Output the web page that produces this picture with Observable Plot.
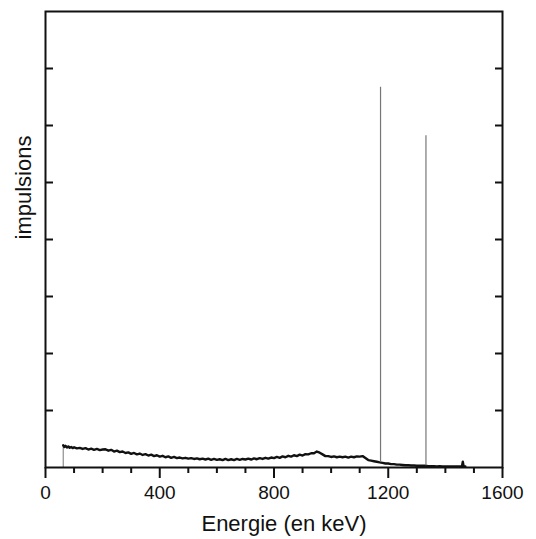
<!DOCTYPE html>
<html>
<head>
<meta charset="utf-8">
<script src="https://cdn.jsdelivr.net/npm/d3@7"></script>
<script src="https://cdn.jsdelivr.net/npm/@observablehq/plot@0.6"></script>
<style>
  body { margin: 0; background: #fff; }
  svg { font-family: "Liberation Sans", Arial, Helvetica, sans-serif; }
</style>
</head>
<body>
<div id="chart"></div>
<script>
// Energy (keV) of the sampled spectrum points
const energy = [62, 66, 70, 75, 80, 85, 90, 95, 100, 110, 120, 130, 140, 150, 160, 170, 180, 190, 200,
  210, 220, 230, 240, 250, 260, 270, 280, 290, 300, 310, 320, 330, 340, 350, 360, 370, 380, 390, 400,
  410, 420, 430, 440, 450, 460, 470, 480, 490, 500, 510, 520, 530, 540, 550, 560, 570, 580, 590, 600,
  610, 620, 630, 640, 650, 660, 670, 680, 690, 700, 710, 720, 730, 740, 750, 760, 770, 780, 790, 800,
  810, 820, 830, 840, 850, 860, 870, 880, 890, 900, 910, 920, 930, 940, 950, 960, 970, 980, 990, 1000,
  1010, 1020, 1030, 1040, 1050, 1060, 1070, 1080, 1090, 1100, 1110, 1120, 1130, 1140, 1150, 1160, 1170, 1180, 1190, 1200,
  1210, 1220, 1230, 1240, 1250, 1260, 1270, 1280, 1290, 1300, 1310, 1320, 1330, 1340, 1350, 1360, 1370, 1380, 1390, 1400,
  1410, 1420, 1430, 1440, 1450, 1458, 1461, 1464, 1470];
// Counts (arbitrary units, frame = 0..8)
const counts = [0.39, 0.36, 0.38, 0.35, 0.37, 0.345, 0.36, 0.34, 0.355, 0.335, 0.345, 0.325, 0.34, 0.315, 0.33, 0.31, 0.325, 0.305, 0.315,
  0.32, 0.295, 0.31, 0.28, 0.295, 0.27, 0.28, 0.255, 0.265, 0.24, 0.255, 0.23, 0.245, 0.22, 0.235, 0.21, 0.225, 0.2, 0.215, 0.19,
  0.205, 0.18, 0.195, 0.17, 0.185, 0.165, 0.175, 0.16, 0.17, 0.155, 0.165, 0.15, 0.16, 0.145, 0.155, 0.14, 0.155, 0.135, 0.15, 0.135,
  0.145, 0.13, 0.15, 0.13, 0.145, 0.13, 0.15, 0.135, 0.15, 0.14, 0.155, 0.14, 0.16, 0.145, 0.165, 0.15, 0.17, 0.155, 0.175, 0.165,
  0.185, 0.17, 0.195, 0.18, 0.205, 0.19, 0.215, 0.2, 0.225, 0.21, 0.235, 0.23, 0.25, 0.25, 0.28, 0.26, 0.23, 0.2, 0.2, 0.185,
  0.195, 0.18, 0.19, 0.18, 0.19, 0.175, 0.19, 0.18, 0.195, 0.19, 0.2, 0.165, 0.13, 0.12, 0.11, 0.10, 0.09, 0.08, 0.07, 0.07,
  0.06, 0.06, 0.05, 0.05, 0.045, 0.04, 0.04, 0.035, 0.035, 0.03, 0.03, 0.03, 0.03, 0.025, 0.025, 0.025, 0.02, 0.025, 0.02, 0.02,
  0.02, 0.02, 0.02, 0.02, 0.02, 0.02, 0.10, 0.02, 0.02];
// Low-energy threshold edge (keV) and its height
const edgeEnergy = [62];
const edgeHeight = [0.39];
// Photopeaks (keV) and heights
const peakEnergy = [1173, 1332];
const peakBase = [0.09, 0.03];
const peakHeight = [6.67, 5.82];
const majorTicks = [0, 400, 800, 1200, 1600];
const minorTicks = [100, 200, 300, 500, 600, 700, 900, 1000, 1100, 1300, 1400, 1500];
const yTicks = [1, 2, 3, 4, 5, 6, 7];

const spectrum = energy.map((e, i) => ({e, c: counts[i]}));
const peaks = peakEnergy.map((e, i) => ({e, y1: peakBase[i], y2: peakHeight[i]}));
const edges = edgeEnergy.map((e, i) => ({e, y1: 0, y2: edgeHeight[i]}));

const chart = Plot.plot({
  width: 536,
  height: 539,
  marginLeft: 45,
  marginRight: 34,
  marginTop: 11,
  marginBottom: 72,
  style: {fontFamily: '"Liberation Sans", Arial, sans-serif', color: "#111"},
  x: {domain: [0, 1600]},
  y: {domain: [0, 8]},
  marks: [
    Plot.ruleX(edges, {x: "e", y1: "y1", y2: "y2", stroke: "#777", strokeWidth: 1}),
    Plot.line(spectrum, {x: "e", y: "c", stroke: "#111", strokeWidth: 2.4}),
    Plot.ruleX(peaks, {x: "e", y1: "y1", y2: "y2", stroke: "#777", strokeWidth: 1.2}),
    Plot.axisX({ticks: majorTicks, tickSize: 11, tickPadding: 7, fontSize: 19, strokeWidth: 2, label: null, tickFormat: d3.format("d")}),
    Plot.axisX({ticks: minorTicks, tickSize: 6, strokeWidth: 2, text: null, label: null}),
    Plot.axisY({anchor: "left", ticks: yTicks, tickSize: -8, strokeWidth: 2, text: null, label: null}),
    Plot.axisY({anchor: "right", ticks: yTicks, tickSize: -8, strokeWidth: 2, text: null, label: null}),
    Plot.frame({stroke: "#111", strokeWidth: 2}),
    Plot.text(["Energie (en keV)"], {frameAnchor: "bottom", dx: 10, dy: 56, lineAnchor: "middle", fontSize: 22, fill: "#111"}),
    Plot.text(["impulsions"], {frameAnchor: "left", dx: -22, rotate: -90, lineAnchor: "middle", fontSize: 22, fill: "#111"})
  ]
});
document.getElementById("chart").appendChild(chart);
</script>
</body>
</html>
